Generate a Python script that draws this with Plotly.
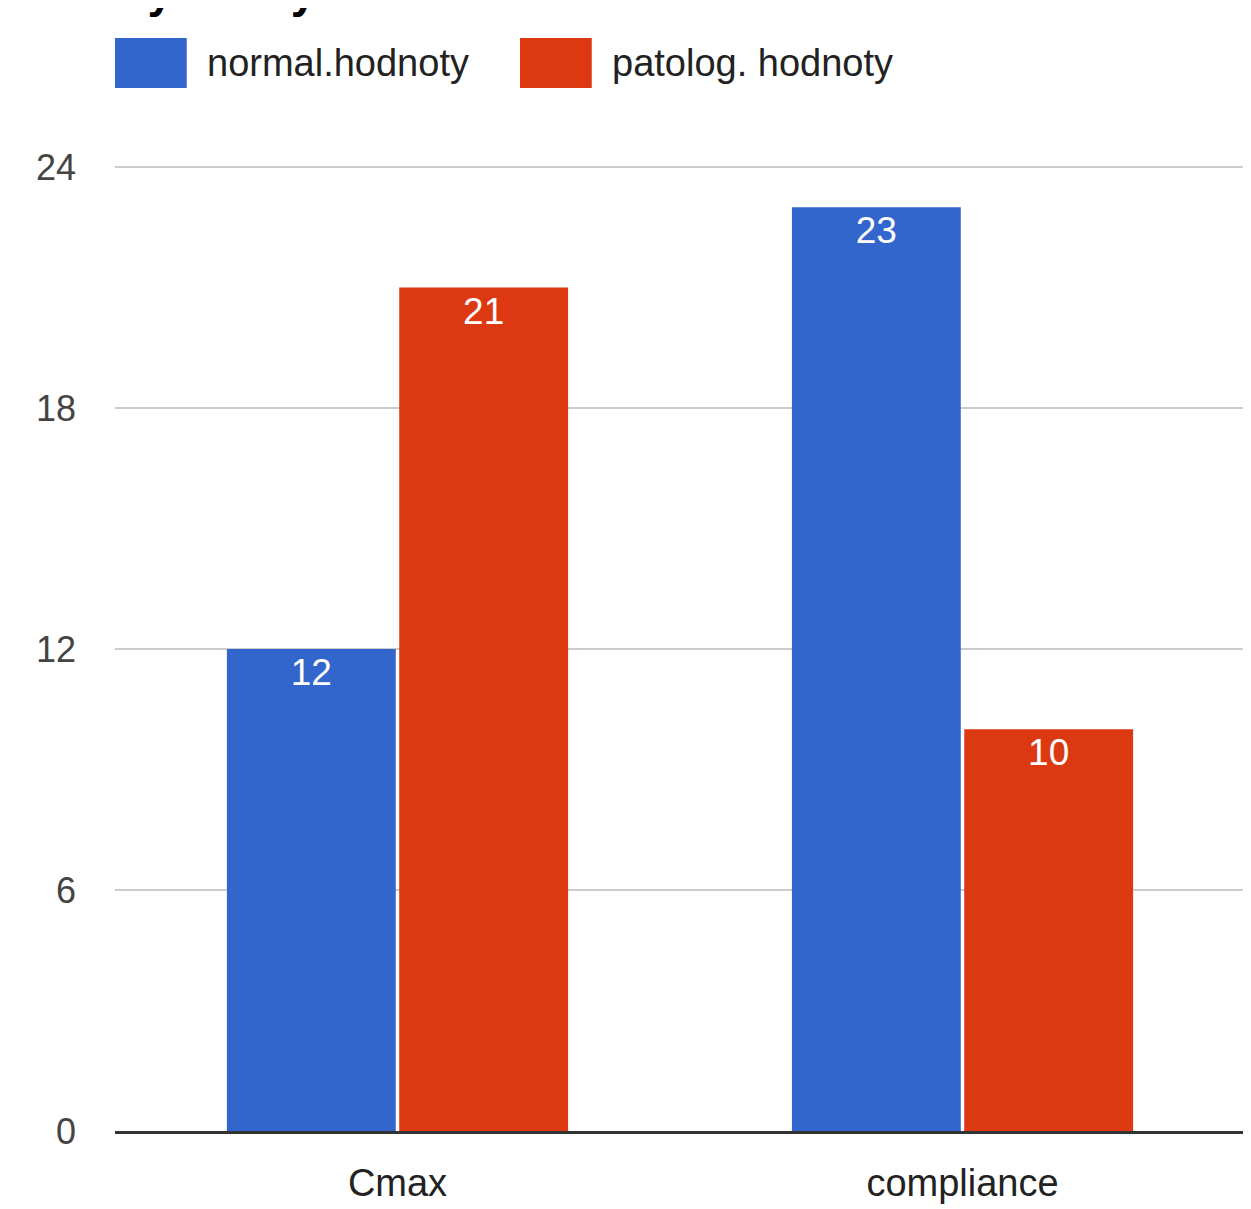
import plotly.graph_objects as go

categories = ["Cmax", "compliance"]
normal_vals = [12, 23]
patolog_vals = [21, 10]
series_names = ["normal.hodnoty", "patolog. hodnoty"]
colors = ["#3366cc", "#dc3912"]
y_ticks = [0, 6, 12, 18, 24]
title_text = "výsledky"

FONT = "Liberation Sans, Arial"

fig = go.Figure()
for name, vals, col in zip(series_names, [normal_vals, patolog_vals], colors):
    fig.add_trace(go.Bar(
        x=categories, y=vals, name=name,
        marker=dict(color=col, line=dict(width=0)),
        text=[str(v) for v in vals], textposition="inside",
        insidetextanchor="end",
        textfont=dict(color="white", size=37, family=FONT),
        showlegend=False,
    ))

# custom legend (large swatches as in the reference)
leg_x = [0.0, 0.3584]
for i, (name, col) in enumerate(zip(series_names, colors)):
    fig.add_shape(type="rect", xref="paper", yref="paper",
                  x0=leg_x[i], x1=leg_x[i] + 0.0635, y0=1.0775, y1=1.1291,
                  fillcolor=col, line=dict(width=0))
    fig.add_annotation(xref="paper", yref="paper", x=leg_x[i] + 0.0796, y=1.1033,
                       text=name, showarrow=False, xanchor="left", yanchor="middle",
                       font=dict(size=38, color="#222222", family=FONT))

fig.add_annotation(xref="paper", yref="paper", x=0.004, y=1.1488, text="<b>" + title_text + "</b>",
                   showarrow=False, xanchor="left", yanchor="bottom",
                   font=dict(size=46, color="#000000", family=FONT))

fig.update_layout(
    width=1243, height=1201,
    margin=dict(l=107, r=6, t=155, b=78),
    plot_bgcolor="white", paper_bgcolor="white",
    barmode="group", bargap=0.39, bargroupgap=0.02,
    font=dict(family=FONT, color="#444444", size=36),
    uniformtext=dict(minsize=10, mode="show"),
)
fig.update_yaxes(range=[0, 24.1], tickvals=y_ticks, ticktext=[str(t) for t in y_ticks],
                 showgrid=True, gridcolor="#cccccc", gridwidth=2,
                 zeroline=False, showline=False, ticks="", ticklabelstandoff=38,
                 tickfont=dict(size=36, color="#444444", family=FONT))
fig.update_xaxes(showgrid=False, showline=True, linecolor="#333333", linewidth=3,
                 ticks="", ticklabelstandoff=16,
                 tickfont=dict(size=38, color="#222222", family=FONT))

fig.write_html("out.html")
